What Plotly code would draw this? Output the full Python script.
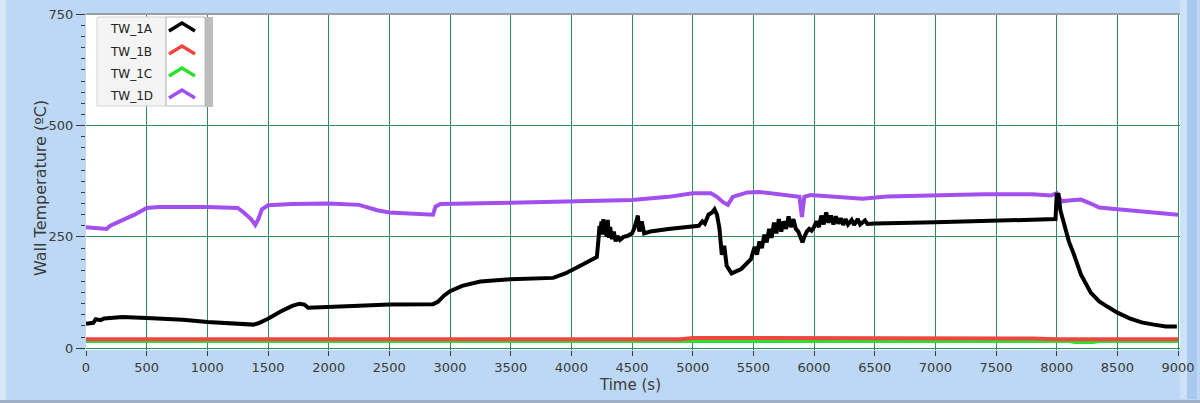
import plotly.graph_objects as go

# Wall temperature records (time in s, temperature in ºC)
t_1a = [0, 60, 80, 120, 150, 300, 500, 800, 1000, 1200, 1380, 1420, 1500, 1600, 1700,
        1760, 1800, 1830, 1900, 2200, 2500, 2860, 2900, 2950, 3000, 3100, 3250, 3500,
        3850, 3950, 4050, 4150, 4210, 4222, 4232, 4240, 4248, 4256, 4264, 4272, 4280,
        4290, 4300, 4310, 4320, 4335, 4350, 4365, 4380, 4400, 4430, 4460, 4500, 4520,
        4535, 4548, 4560, 4580, 4600, 4650, 4800, 5000, 5050, 5080, 5100, 5130, 5160,
        5180, 5200, 5220, 5240, 5260, 5280, 5320, 5400, 5480, 5510, 5530, 5550, 5570,
        5590, 5610, 5630, 5650, 5670, 5690, 5710, 5730, 5750, 5770, 5790, 5810, 5830,
        5850, 5870, 5890, 5905, 5920, 5940, 5960, 5980, 6000, 6020, 6040, 6060, 6080,
        6100, 6120, 6140, 6160, 6180, 6200, 6220, 6240, 6260, 6280, 6310, 6330, 6360,
        6380, 6420, 6440, 6500, 7000, 7500, 7990, 8000, 8015, 8030, 8060, 8100, 8140,
        8200, 8280, 8350, 8420, 8500, 8600, 8700, 8800, 8900, 8990]
v_1a = [55, 57, 65, 63, 67, 70, 68, 64, 59, 57, 53, 56, 66, 82, 95,
        100, 98, 91, 92, 95, 98, 99, 104, 118, 128, 140, 150, 155,
        158, 168, 182, 195, 205, 240, 275, 262, 285, 255, 290, 258, 280,
        250, 288, 248, 272, 245, 262, 240, 252, 243, 250, 252, 258, 270,
        290, 298, 262, 285, 258, 262, 268, 272, 275, 285, 280, 300, 305,
        312, 300, 270, 210, 230, 185, 168, 178, 200, 228, 210, 240, 225,
        255, 238, 268, 248, 282, 258, 290, 262, 285, 268, 296, 272, 290,
        268, 262, 248, 238, 250, 262, 268, 264, 272, 285, 272, 298, 278,
        305, 282, 298, 278, 296, 280, 292, 277, 290, 278, 288, 277, 290,
        278, 287, 279, 280, 283, 287, 290, 345, 345, 310, 283, 240, 212,
        165, 125, 105, 93, 80, 67, 58, 53, 49, 49]

t_1b = [0, 4900, 5000, 5500, 5600, 6000, 6300, 6800, 7300, 7800, 8000, 9000]
v_1b = [20, 20, 23, 23, 22, 21, 23, 22, 23, 22, 20, 20]

t_1c = [0, 8100, 8150, 8300, 8350, 9000]
v_1c = [15, 15, 13, 13, 15, 15]

t_1d = [0, 100, 170, 200, 300, 400, 500, 600, 1000, 1200, 1250, 1300, 1360, 1395, 1420,
        1450, 1500, 1700, 2000, 2250, 2300, 2400, 2500, 2700, 2860, 2880, 2920, 3500,
        4000, 4500, 4800, 5000, 5150, 5200, 5250, 5290, 5330, 5450, 5550, 5700, 5880,
        5900, 5920, 5970, 6100, 6400, 6600, 7000, 7400, 7800, 7950, 8000, 8040, 8100,
        8200, 8280, 8350, 8500, 8700, 9000]
v_1d = [272, 270, 268, 275, 287, 300, 315, 317, 317, 317, 315, 305, 290, 277, 290,
        312, 321, 324, 325, 322, 318, 310, 305, 301, 300, 318, 324, 327,
        330, 333, 340, 348, 348, 340, 328, 322, 340, 350, 351, 346, 340,
        295, 340, 344, 341, 336, 341, 344, 346, 346, 343, 348, 330, 332,
        334, 325, 316, 312, 307, 300]

names = ["TW_1A", "TW_1B", "TW_1C", "TW_1D"]
colors = ["#000000", "#ee4640", "#2ee02e", "#a24ff0"]

x_ticks = list(range(0, 9001, 500))
y_ticks = [0, 250, 500, 750]

# Figure geometry (pixels)
W, H = 1200, 403
ML, MR, MT, MB = 86, 20, 13, 53
PW, PH = W - ML - MR, H - MT - MB


def px(x):
    return (x - ML) / PW


def py(y):
    return (H - MB - y) / PH


series = {
    "TW_1A": (t_1a, v_1a),
    "TW_1B": (t_1b, v_1b),
    "TW_1C": (t_1c, v_1c),
    "TW_1D": (t_1d, v_1d),
}
widths = {"TW_1A": 4, "TW_1B": 4, "TW_1C": 3, "TW_1D": 4}
draw_order = ["TW_1C", "TW_1B", "TW_1D", "TW_1A"]

fig = go.Figure()
for name in draw_order:
    t, v = series[name]
    fig.add_trace(go.Scatter(
        x=t, y=v, mode="lines", name=name, showlegend=False,
        line=dict(color=colors[names.index(name)], width=widths[name]),
    ))

font = "DejaVu Sans"
tick_color = "#3a3a3a"
grid_color = "#2f8f5c"

fig.update_layout(
    width=W, height=H,
    margin=dict(l=ML, r=MR, t=MT, b=MB, pad=0, autoexpand=False),
    paper_bgcolor="#bcd8f5",
    plot_bgcolor="#ffffff",
    font=dict(family=font, size=13, color=tick_color),
    xaxis=dict(
        range=[0, 9016], tickvals=x_ticks, showgrid=True, gridcolor=grid_color,
        gridwidth=1, zeroline=False, showline=False, ticks="outside", ticklen=5,
        tickcolor=tick_color, tickfont=dict(size=13, color=tick_color), automargin=False,
    ),
    yaxis=dict(
        range=[-4, 753], tickvals=y_ticks, showgrid=True, gridcolor=grid_color,
        gridwidth=1, zeroline=False, showline=False, ticks="outside", ticklen=9,
        tickcolor=tick_color, tickfont=dict(size=13, color=tick_color), automargin=False,
        minor=dict(tickvals=[v for v in range(0, 751, 25) if v % 250], ticks="outside",
                   ticklen=4, tickcolor=tick_color, showgrid=False),
    ),
)

shapes = []
# frame decorations
shapes.append(dict(type="rect", xref="paper", yref="paper", x0=px(0), x1=px(6),
                   y0=py(H), y1=py(0), fillcolor="#d8e8fa", line_width=0, layer="below"))
shapes.append(dict(type="rect", xref="paper", yref="paper", x0=px(1180), x1=px(1187),
                   y0=py(399), y1=py(0), fillcolor="#cde2f9", line_width=0, layer="below"))
shapes.append(dict(type="rect", xref="paper", yref="paper", x0=px(1187), x1=px(1197),
                   y0=py(399), y1=py(0), fillcolor="#a9caef", line_width=0, layer="below"))
shapes.append(dict(type="rect", xref="paper", yref="paper", x0=px(0), x1=px(W),
                   y0=py(H), y1=py(400), fillcolor="#9fb0c4", line_width=0, layer="below"))
# grey top edge of the plotting area
shapes.append(dict(type="rect", xref="paper", yref="paper", x0=0, x1=1,
                   y0=py(15), y1=1, fillcolor="#9a9fa6", line_width=0))

# legend box
LX0, LX1, LSEP, LSH = 97, 205, 166, 213
LY0, LY1 = 17, 106
shapes.append(dict(type="rect", xref="paper", yref="paper", x0=px(LX1), x1=px(LSH),
                   y0=py(LY1 + 1), y1=py(LY0), fillcolor="#bdbdbd", line_width=0))
shapes.append(dict(type="rect", xref="paper", yref="paper", x0=px(LX0), x1=px(LSEP),
                   y0=py(LY1), y1=py(LY0), fillcolor="#f4f4f4",
                   line=dict(color="#d4d4d4", width=1)))
shapes.append(dict(type="rect", xref="paper", yref="paper", x0=px(LSEP), x1=px(LX1),
                   y0=py(LY1), y1=py(LY0), fillcolor="#ffffff",
                   line=dict(color="#b8b8b8", width=1)))

annotations = []
row_y = [29, 52, 74, 96]
for name, color, ry in zip(names, colors, row_y):
    annotations.append(dict(
        x=px(131), y=py(ry), xref="paper", yref="paper", text=name, showarrow=False,
        font=dict(family=font, size=12, color="#222222"), xanchor="center", yanchor="middle",
    ))
    path = "M {:.5f},{:.5f} L {:.5f},{:.5f} L {:.5f},{:.5f}".format(
        px(169), py(ry + 2), px(182), py(ry - 6), px(195), py(ry + 2))
    shapes.append(dict(type="path", xref="paper", yref="paper", path=path,
                       line=dict(color=color, width=3.5)))

annotations.append(dict(
    x=px(630), y=py(385), xref="paper", yref="paper", text="Time (s)", showarrow=False,
    font=dict(family=font, size=15, color=tick_color), xanchor="center", yanchor="middle",
))
annotations.append(dict(
    x=px(40), y=py(188), xref="paper", yref="paper", text="Wall Temperature (ºC)",
    showarrow=False, textangle=-90,
    font=dict(family=font, size=16, color=tick_color), xanchor="center", yanchor="middle",
))

fig.update_layout(shapes=shapes, annotations=annotations)
fig.write_html("out.html")
